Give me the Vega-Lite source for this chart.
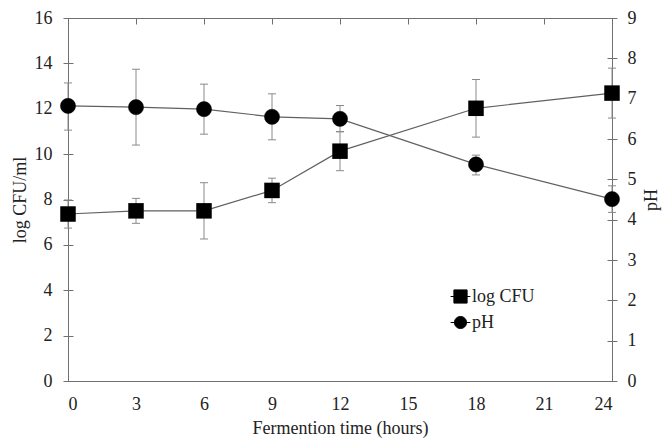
{
  "$schema": "https://vega.github.io/schema/vega-lite/v6.json",
  "width": 544,
  "height": 363,
  "autosize": {"type": "none"},
  "padding": {"left": 68, "top": 18, "right": 58, "bottom": 57},
  "config": {
    "view": {"stroke": "#707070", "strokeWidth": 1},
    "font": "Liberation Serif",
    "axis": {
      "labelFont": "Liberation Serif",
      "titleFont": "Liberation Serif",
      "labelFontSize": 18,
      "titleFontSize": 18,
      "titleFontWeight": "normal",
      "labelColor": "#222",
      "titleColor": "#222",
      "domainColor": "#707070",
      "tickColor": "#707070",
      "gridColor": "#707070",
      "gridOpacity": 1,
      "gridWidth": 1
    },
    "legend": {
      "labelFont": "Liberation Serif",
      "labelFontSize": 18,
      "labelColor": "#222",
      "symbolSize": 484,
      "symbolFillColor": "black",
      "symbolStrokeColor": "black",
      "symbolStrokeWidth": 1,
      "symbolOpacity": 1,
      "labelOffset": 0,
      "orient": "none",
      "padding": 0
    }
  },
  "datasets": {
    "cfu": [
      {"time": 0, "series": "log CFU", "value": 7.36, "lo": 6.74, "hi": 7.98},
      {"time": 3, "series": "log CFU", "value": 7.5, "lo": 6.95, "hi": 8.05},
      {"time": 6, "series": "log CFU", "value": 7.5, "lo": 6.26, "hi": 8.74},
      {"time": 9, "series": "log CFU", "value": 8.4, "lo": 7.86, "hi": 8.94},
      {"time": 12, "series": "log CFU", "value": 10.13, "lo": 9.27, "hi": 10.99},
      {"time": 18, "series": "log CFU", "value": 12.02, "lo": 10.75, "hi": 13.29},
      {"time": 24, "series": "log CFU", "value": 12.69, "lo": 11.59, "hi": 13.79}
    ],
    "ph": [
      {"time": 0, "series": "pH", "value": 6.82, "lo": 6.22, "hi": 7.39},
      {"time": 3, "series": "pH", "value": 6.79, "lo": 5.85, "hi": 7.73},
      {"time": 6, "series": "pH", "value": 6.74, "lo": 6.12, "hi": 7.36},
      {"time": 9, "series": "pH", "value": 6.55, "lo": 5.98, "hi": 7.12},
      {"time": 12, "series": "pH", "value": 6.5, "lo": 6.18, "hi": 6.83},
      {"time": 18, "series": "pH", "value": 5.37, "lo": 5.11, "hi": 5.6},
      {"time": 24, "series": "pH", "value": 4.51, "lo": 4.18, "hi": 4.84}
    ]
  },
  "encoding": {
    "x": {
      "field": "time",
      "type": "quantitative",
      "scale": {"domain": [0, 24], "nice": false},
      "axis": {
        "title": "Fermention time (hours)",
        "values": [0, 3, 6, 9, 12, 15, 18, 21, 24],
        "ticks": false,
        "tickSize": 0,
        "grid": true,
        "gridDash": [6, 3000],
        "labelPadding": 14,
        "titlePadding": 6
      }
    }
  },
  "layer": [
    {
      "data": {"name": "cfu"},
      "encoding": {
        "y": {
          "field": "value",
          "type": "quantitative",
          "scale": {"domain": [0, 16], "nice": false},
          "axis": {
            "title": "log CFU/ml",
            "orient": "left",
            "values": [0, 2, 4, 6, 8, 10, 12, 14, 16],
            "tickSize": 5,
            "labelPadding": 11,
            "titlePadding": 5,
            "grid": true,
            "gridDash": [5, 3000]
          }
        }
      },
      "layer": [
        {"mark": {"type": "rule", "color": "#8a8a8a", "strokeWidth": 1}, "encoding": {"y": {"field": "lo", "type": "quantitative"}, "y2": {"field": "hi"}}},
        {"mark": {"type": "tick", "orient": "horizontal", "size": 8, "thickness": 1, "color": "#8a8a8a", "opacity": 1}, "encoding": {"y": {"field": "lo", "type": "quantitative"}}},
        {"mark": {"type": "tick", "orient": "horizontal", "size": 8, "thickness": 1, "color": "#8a8a8a", "opacity": 1}, "encoding": {"y": {"field": "hi", "type": "quantitative"}}},
        {"mark": {"type": "line", "color": "#606060", "strokeWidth": 1.2}},
        {
          "mark": {"type": "point", "filled": true, "shape": "square", "size": 240, "opacity": 1},
          "encoding": {
            "fill": {
              "field": "series",
              "type": "nominal",
              "scale": {"domain": ["log CFU"], "range": ["black"]},
              "legend": {
                "title": null,
                "orient": "none",
                "legendX": 381,
                "legendY": 267,
                "symbolType": "M-0.9,0H0.9M-0.6,-0.6H0.6V0.6H-0.6Z"
              }
            }
          }
        }
      ]
    },
    {
      "data": {"name": "ph"},
      "encoding": {
        "y": {
          "field": "value",
          "type": "quantitative",
          "scale": {"domain": [0, 9], "nice": false},
          "axis": {
            "title": "pH",
            "orient": "right",
            "titleAngle": -90,
            "titleBaseline": "top",
            "values": [0, 1, 2, 3, 4, 5, 6, 7, 8, 9],
            "tickSize": 5,
            "labelPadding": 10,
            "titlePadding": 6,
            "grid": true,
            "gridDash": [5, 3000]
          }
        }
      },
      "layer": [
        {"mark": {"type": "rule", "color": "#8a8a8a", "strokeWidth": 1}, "encoding": {"y": {"field": "lo", "type": "quantitative"}, "y2": {"field": "hi"}}},
        {"mark": {"type": "tick", "orient": "horizontal", "size": 8, "thickness": 1, "color": "#8a8a8a", "opacity": 1}, "encoding": {"y": {"field": "lo", "type": "quantitative"}}},
        {"mark": {"type": "tick", "orient": "horizontal", "size": 8, "thickness": 1, "color": "#8a8a8a", "opacity": 1}, "encoding": {"y": {"field": "hi", "type": "quantitative"}}},
        {"mark": {"type": "line", "color": "#606060", "strokeWidth": 1.2}},
        {
          "mark": {"type": "point", "filled": true, "shape": "circle", "size": 230, "fill": "black", "strokeWidth": 0.5, "opacity": 1},
          "encoding": {
            "stroke": {
              "field": "series",
              "type": "nominal",
              "scale": {"domain": ["pH"], "range": ["black"]},
              "legend": {
                "title": null,
                "orient": "none",
                "legendX": 381,
                "legendY": 293,
                "symbolType": "M-0.9,0H0.9M0.55,0A0.55,0.55 0 1 1 -0.55,0A0.55,0.55 0 1 1 0.55,0Z",
                "symbolStrokeWidth": 1
              }
            }
          }
        }
      ]
    }
  ],
  "resolve": {"scale": {"y": "independent"}, "axis": {"y": "independent"}}
}
